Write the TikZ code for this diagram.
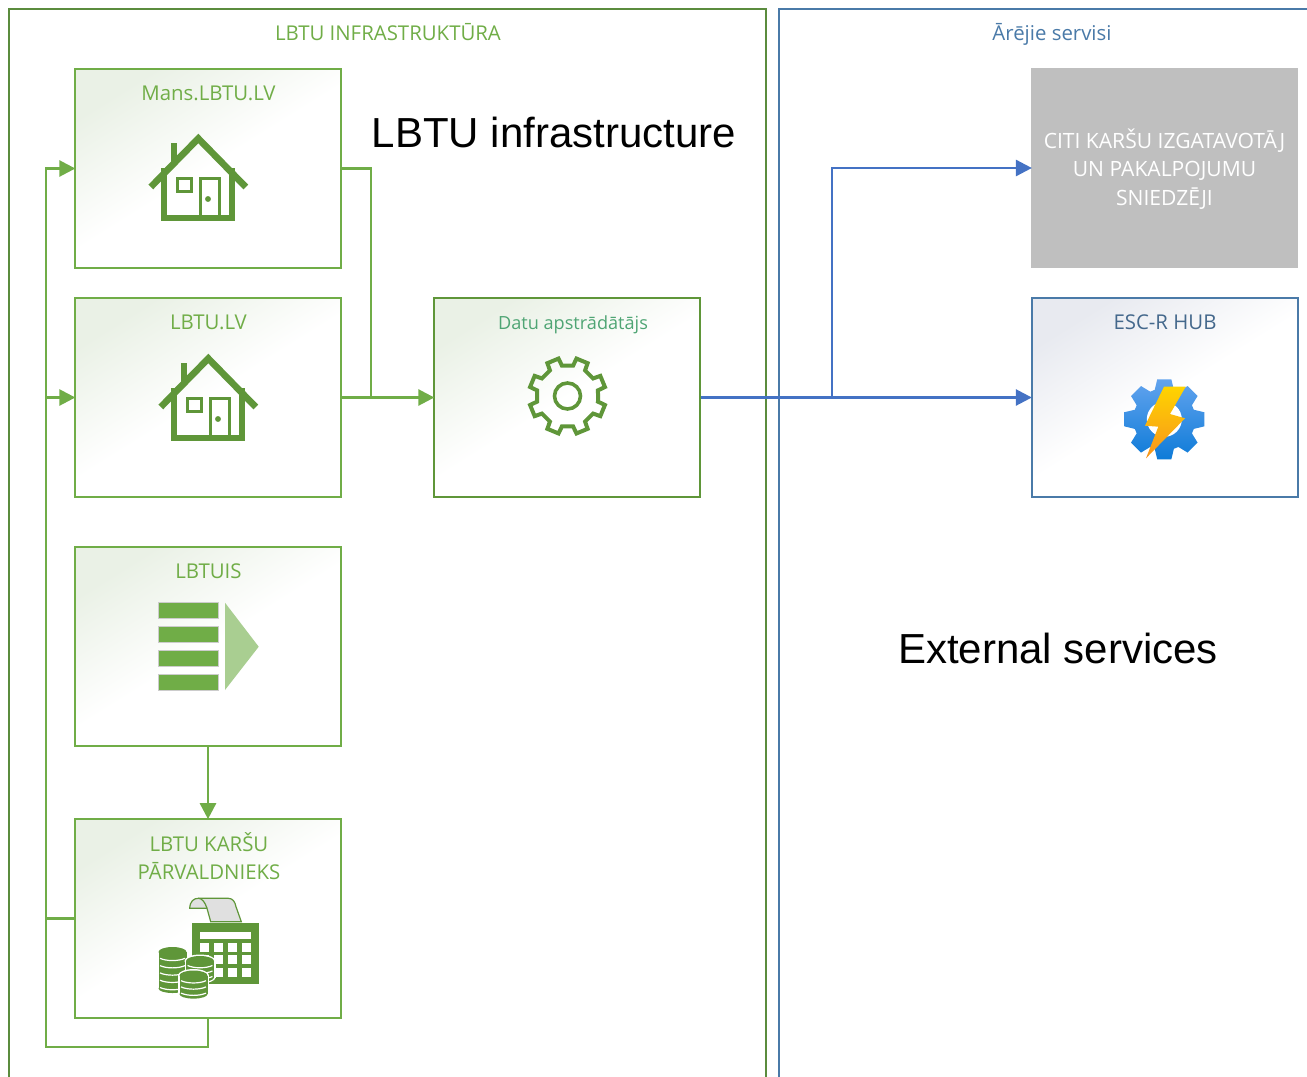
\documentclass[tikz,border=0pt]{standalone}
\usepackage{fontspec}
\setmainfont{Open Sans}
\newfontfamily\bigfont{Liberation Sans}
\usetikzlibrary{arrows.meta}
\definecolor{leaf}{HTML}{70AD47}
\definecolor{darkleaf}{HTML}{5F9639}
\definecolor{panelgreen}{HTML}{5B8C3E}
\definecolor{panelblue}{HTML}{4A7AA8}
\definecolor{linkblue}{HTML}{4472C4}
\definecolor{hubtext}{HTML}{44688C}
\definecolor{datutext}{HTML}{4FA574}
\definecolor{paleleaf}{HTML}{EAF1E6}
\definecolor{paleblue}{HTML}{E8EAF0}
\definecolor{gearlight}{HTML}{62A3EE}
\definecolor{geardark}{HTML}{0E7BD8}
\definecolor{boltlight}{HTML}{FFD400}
\definecolor{boltdark}{HTML}{F7941D}

\tikzset{
	house/.pic={
		\draw[darkleaf,line width=5pt] (-47.5,54)--(0,5.5)--(47.5,54);
		\draw[darkleaf,line width=4.5pt] (-34,35)--(-34,85)--(34,85)--(34,35);
		\draw[darkleaf,line width=4.5pt] (-24.3,10)--(-24.3,32);
		\draw[darkleaf,line width=2.25pt] (-20.5,45) rectangle (-7,58.5);
		\draw[darkleaf,line width=2.25pt] (2,85)--(2,45)--(21,45)--(21,85);
		\fill[darkleaf] (9.7,66) circle (2.2pt);
	},
}

\begin{document}
\begin{tikzpicture}
	[x=0.75pt,y=-0.75pt,%%%%%%%%%%%%%%%%%%%%%%%%%%%%%%
	box/.style={rectangle,draw=leaf,line width=1.5pt,minimum width=199.5pt,minimum height=149.5pt,
		top color=paleleaf,bottom color=white,middle color=white,shading angle=32},
	hubbox/.style={rectangle,draw=panelblue,line width=1.5pt,minimum width=199.5pt,minimum height=149.5pt,
		top color=paleblue,bottom color=white,middle color=white,shading angle=32},
	greybox/.style={rectangle,fill=black!25,minimum width=200.5pt,minimum height=150pt},
	panel/.style={line width=1.5pt},
	boxlabel/.style={font=\fontsize{15.3}{21.5}\selectfont,text=leaf,align=center},
	biglabel/.style={font=\bigfont\fontsize{31.5}{40}\selectfont,text=black},
	link/.style={draw=leaf,line width=2pt},
	linkarrow/.style={link,-{Triangle[length=12pt,width=12pt]},shorten >=-1pt},
	bluelink/.style={draw=linkblue,line width=2pt},
	bluearrow/.style={bluelink,-{Triangle[length=12pt,width=12pt]},shorten >=-1pt},
	]%%%%%%%%%%%%%%%%%%%%%%%%%%%%%%
	\useasboundingbox (0,0) rectangle (1307,1076);

	\draw[panel,draw=panelgreen] (9,1100)--(9,9)--(766,9)--(766,1100);
	\draw[panel,draw=panelblue] (779,1100)--(779,9)--(1330,9);
	\node[boxlabel] (infratitle) at (388,32.5) {LBTU INFRASTRUKTŪRA};
	\node[boxlabel,text=panelblue] (exttitle) at (1052,34) {Ārējie servisi};
	\node[biglabel] (infralabel) at (554,132) {LBTU infrastructure};
	\node[biglabel] (extlabel) at (1058,648) {External services};

	\node[box] (mans) at (208,168.5){};
	\node[box] (lbtu) at (208,397.5){};
	\node[box] (lbtuis) at (208,646.5){};
	\node[box] (karti) at (208,918.5){};
	\node[box,draw=darkleaf] (datu) at (567,397.5){};
	\node[greybox] (citi) at (1164.5,168){};
	\node[hubbox] (hub) at (1164.5,397.5){};

	\node[boxlabel] (manstext) at (208.5,93.2) {Mans.LBTU.LV};
	\node[boxlabel] (lbtutext) at (208.5,322.2) {LBTU.LV};
	\node[boxlabel] (lbtuistext) at (208.5,571) {LBTUIS};
	\node[boxlabel] (kartitext) at (209,856) {LBTU KARŠU\\PĀRVALDNIEKS};
	\node[boxlabel,text=datutext,font=\fontsize{13.6}{20}\selectfont] (datutext) at (573,325) {Datu apstrādātājs};
	\node[boxlabel,text=hubtext] (hubtext) at (1165,322) {ESC-R HUB};
	\node[boxlabel,text=white,font=\fontsize{15.8}{21.2}\selectfont] (cititext) at (1164.5,169) {CITI KARŠU IZGATAVOTĀJ\\UN PAKALPOJUMU\\SNIEDZĒJI};

	% house icons
	\pic at (198.3,133) {house};
	\pic at (208.3,353) {house};

	% list icon
	\foreach \y in {602.7,626.3,650,674}
		\draw[fill=leaf,draw=black!20,line width=0.75pt] (158.3,\y) rectangle (218.3,\y+16);
	\fill[leaf!60] (225,602.7)--(258.7,646.7)--(225,690)--cycle;

	% gear of the processor
	\begin{scope}[shift={(567.5,396)}]
		\draw[darkleaf,line width=3pt,line join=miter]
			(10:31) \foreach \a in {22.5,67.5,...,337.5}{
				-- ({\a-12}:31) -- ({\a-9}:38.5) -- ({\a+9}:38.5) -- ({\a+12}:31)
			} -- cycle;
		\draw[darkleaf,line width=2.7pt] (0,0) circle (13);
	\end{scope}

	% calculator and coins
	\draw[darkleaf,line width=0.9pt,fill=black!12] (189.7,908.3) .. controls (190,901) and (194,898.3) .. (198.3,898.3)
		-- (228.3,898.3) .. controls (233,898.3) and (235,902) .. (236,906.7) -- (241.3,921.7) -- (210.7,921.7) -- (207,908.3) -- cycle;
	\draw[darkleaf,line width=0.9pt] (198.3,898.3) .. controls (202,898.3) and (205,902) .. (207,908.3);
	\fill[darkleaf] (192.3,923.3) rectangle (259,984);
	\fill[white] (200,931.7) rectangle (251,939.3);
	\foreach \x in {200,214,227.7,241.7}{
		\foreach \y in {942.7,955.3,967.7}
		\fill[white] (\x,\y) rectangle (\x+9.3,\y+9);
	}
	\foreach \cx/\cy/\cn/\cd in {172.5/947/5/7.3,200/956/3/5.5,193.5/970.5/3/6.2}{
		\fill[white] (\cx-15.5,\cy+5) rectangle (\cx+15.5,\cy+5+\cd*\cn);
		\fill[white] (\cx,\cy+5) ellipse (15.5 and 6.5);
		\fill[white] (\cx,\cy+5+\cd*\cn) ellipse (15.5 and 6);
		\fill[darkleaf] (\cx-14,\cy+5) rectangle (\cx+14,\cy+5+\cd*\cn);
		\fill[darkleaf] (\cx,\cy+5+\cd*\cn) ellipse (14 and 4.5);
		\fill[darkleaf] (\cx,\cy+5) ellipse (14 and 5);
		\foreach \k in {1,...,\cn}
		\draw[white,line width=0.9pt] (\cx-12.5,\cy+4+\cd*\k) .. controls (\cx-6,\cy+7+\cd*\k) and (\cx+6,\cy+7+\cd*\k) .. (\cx+12.5,\cy+4+\cd*\k);
	}

	% gear and bolt of the hub
	\begin{scope}[shift={(1164.3,419.3)}]
		\shade[top color=gearlight,bottom color=geardark]
			(-10:40.6) \foreach \a in {0,45,...,315}{
				-- ({\a-10}:40.6) -- ({\a+10}:40.6) -- ({\a+18}:31) -- ({\a+27}:31)
			} -- cycle;
		\fill[white] (0,0) circle (17.5);
		\shade[top color=boltlight,bottom color=boltdark]
			(-0.3,-32.6)--(21.4,-32.6)--(5.7,-5.3)--(20.7,-1)--(-18.3,39)--(-6,7.4)--(-19.3,6.4)--cycle;
	\end{scope}
	\draw[white,line width=0.9pt,dash pattern=on 2pt off 3pt] ([xshift=-26pt]hub.south) -- ([xshift=29pt]hub.south);

	% connectors
	\coordinate (join) at (371,397.5);
	\coordinate (trunkmid) at (46,397.5);
	\coordinate (trunkkarti) at (46,918.5);
	\coordinate (trunkend) at (46,1047);
	\coordinate (bluejoin) at (832,397.5);
	\draw[link] (mans.east) -| (join);
	\draw[linkarrow] (lbtu.east) -- (datu.west);
	\draw[linkarrow] (lbtuis.south) -- (karti.north);
	\draw[link] (karti.south) |- (trunkend) -- (trunkmid);
	\draw[link] (karti.west) -- (trunkkarti);
	\draw[linkarrow] (trunkmid) -- (lbtu.west);
	\draw[linkarrow] (trunkmid) |- (mans.west);
	\draw[bluearrow] (datu.east) -- (hub.west);
	\draw[bluearrow] (bluejoin) |- (citi.west);
\end{tikzpicture}
\end{document}
